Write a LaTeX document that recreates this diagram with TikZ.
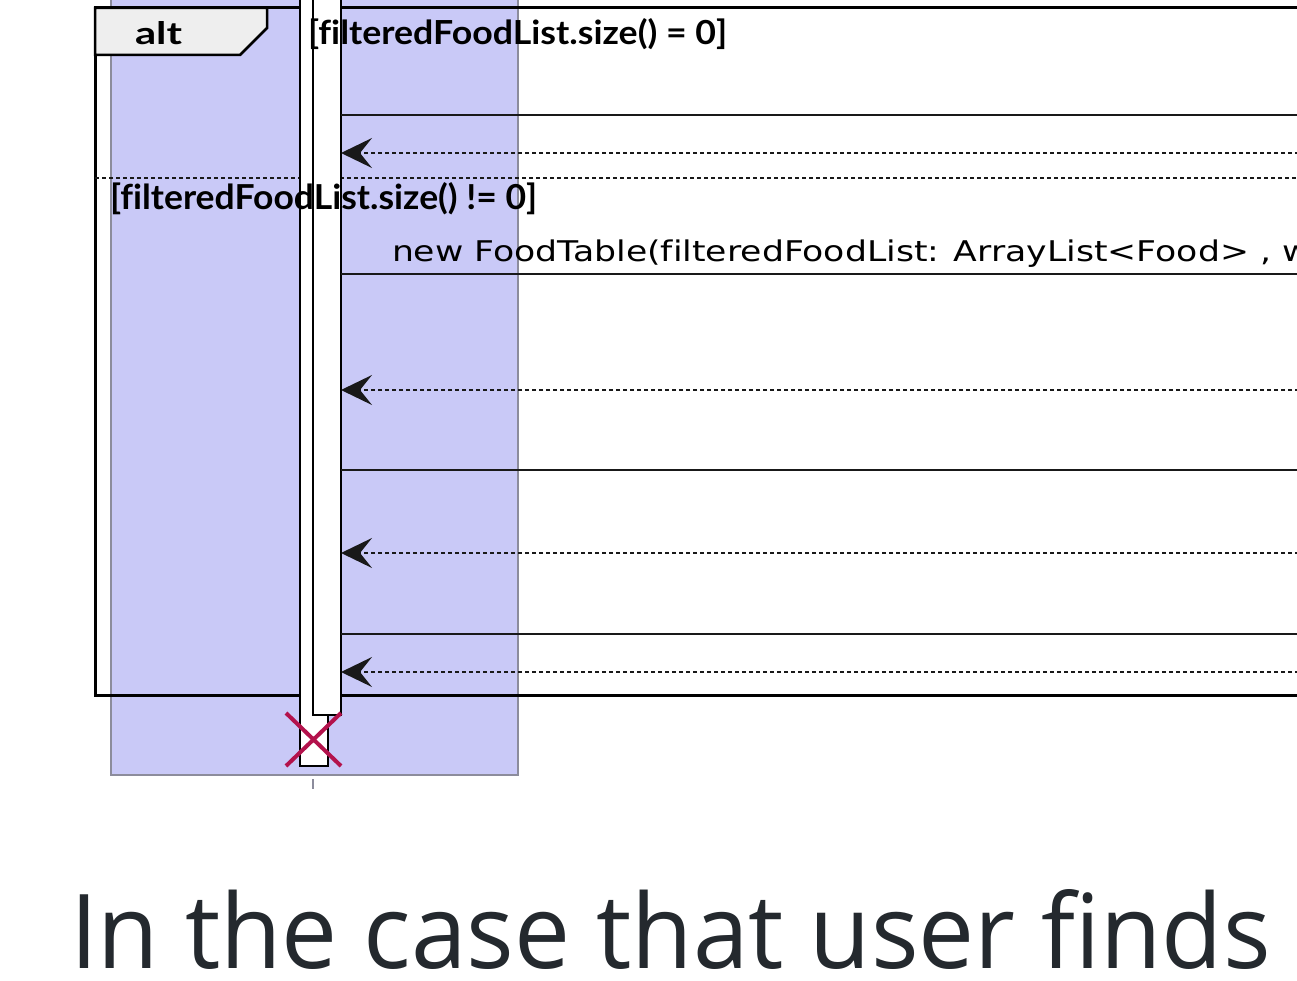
\documentclass[tikz,border=0pt]{standalone}
\usepackage{fontspec}
\setmainfont[Ligatures=NoCommon]{DejaVu Sans}
\newfontfamily\capfont{Open Sans}
\newfontfamily\guardfont[Ligatures=NoCommon]{Lato}
\usetikzlibrary{arrows.meta}
\definecolor{lifeblue}{HTML}{C9C9F7}
\definecolor{lifeedge}{HTML}{8C8C9C}
\definecolor{tabgray}{HTML}{EEEEEE}
\definecolor{xred}{HTML}{B3124C}
\definecolor{captxt}{HTML}{24292E}
\newsavebox\msgbox
\begin{document}
\sbox\msgbox{\fontsize{28.5}{32}\selectfont new FoodTable(filteredFoodList: ArrayList<Food>}%
\pgfmathsetmacro\msgsx{857/\the\wd\msgbox}%
\begin{tikzpicture}[x=1pt,y=-1pt,
  txt/.style={inner sep=0pt, outer sep=0pt, text=black},
  frameline/.style={line width=3pt, black},
  msg/.style={line width=2pt, black!90},
  ret/.style={line width=1.6pt, black!90, dash pattern=on 4pt off 3pt,
              -{Stealth[length=31pt,width=30pt,inset=12pt]}},
  sepline/.style={line width=1.6pt, black!90, dash pattern=on 4pt off 3pt},
  actbar/.style={draw=black, fill=white, line width=1.6pt, inner sep=0pt, outer sep=0pt, minimum width=28pt},
  xmark/.style={draw=xred, line width=4pt}]
\useasboundingbox (0,0) rectangle (1297,981);
\clip (0,0) rectangle (1297,981);
\fill[white] (0,0) rectangle (1297,981);
% lifeline background
\node[draw=lifeedge, fill=lifeblue, line width=1.5pt, inner sep=0pt, outer sep=0pt,
      minimum width=407pt, minimum height=790pt, anchor=south west] (life) at (111,775) {};
\coordinate (lt) at (313,779);
\coordinate (lb) at (313,789);
\draw[lifeedge, line width=1.2pt] (lt) -- (lb);
% frame
\coordinate (ftr) at (1320,8);
\coordinate (ftl) at (95,8);
\coordinate (fbl) at (95,695);
\coordinate (fbr) at (1320,695);
\draw[frameline] (ftr) -- (ftl) -- (fbl) -- (fbr);
% separator
\coordinate (sl) at (95,178);
\coordinate (sr) at (1320,178);
\draw[sepline] (sl) -- (sr);
% tab
\draw[line width=2.5pt, fill=tabgray] (95,8) -- (267,8) -- (267,28) -- (240,55) -- (95,55) -- cycle;
\node[txt, anchor=base west] (alt) at (135,45) {\resizebox{47pt}{23pt}{\guardfont\bfseries alt}};
% activation bars
\node[actbar, minimum height=780pt, anchor=south west] (act1) at (300,766) {};
\node[actbar, minimum height=730pt, anchor=south west] (act2) at (313,715) {};
% destruction mark
\coordinate (x1) at (286,713);
\coordinate (x2) at (341,766);
\coordinate (x3) at (341,713);
\coordinate (x4) at (286,766);
\draw[xmark] (x1) -- (x2);
\draw[xmark] (x3) -- (x4);
% messages
\coordinate (m1) at (1320,115);
\coordinate (r1) at (1320,153);
\coordinate (m2) at (1320,274);
\coordinate (r2) at (1320,390);
\coordinate (m3) at (1320,470);
\coordinate (r3) at (1320,553);
\coordinate (m4) at (1320,634);
\coordinate (r4) at (1320,672);
\draw[msg] (act2.east |- m1) -- (m1);
\draw[ret] (r1) -- (act2.east |- r1);
\draw[msg] (act2.east |- m2) -- (m2);
\draw[ret] (r2) -- (act2.east |- r2);
\draw[msg] (act2.east |- m3) -- (m3);
\draw[ret] (r3) -- (act2.east |- r3);
\draw[msg] (act2.east |- m4) -- (m4);
\draw[ret] (r4) -- (act2.east |- r4);
% guards and labels
\node[txt, anchor=base west] (g1) at (308,45) {\resizebox{419pt}{26pt}{\guardfont\bfseries [filteredFoodList.size() = 0]}};
\node[txt, anchor=base west] (g2) at (110,210) {\resizebox{427pt}{27pt}{\guardfont\bfseries [filteredFoodList.size() != 0]}};
\node[txt, anchor=base west] (lbl) at (392,262) {\scalebox{\msgsx}[1]{\fontsize{28.5}{32}\selectfont new FoodTable(filteredFoodList: ArrayList<Food> , w}};
% caption
\node[txt, text=captxt, anchor=base west] (cap) at (70,968) {\resizebox{1200pt}{79pt}{\capfont In the case that user finds}};
\end{tikzpicture}
\end{document}
